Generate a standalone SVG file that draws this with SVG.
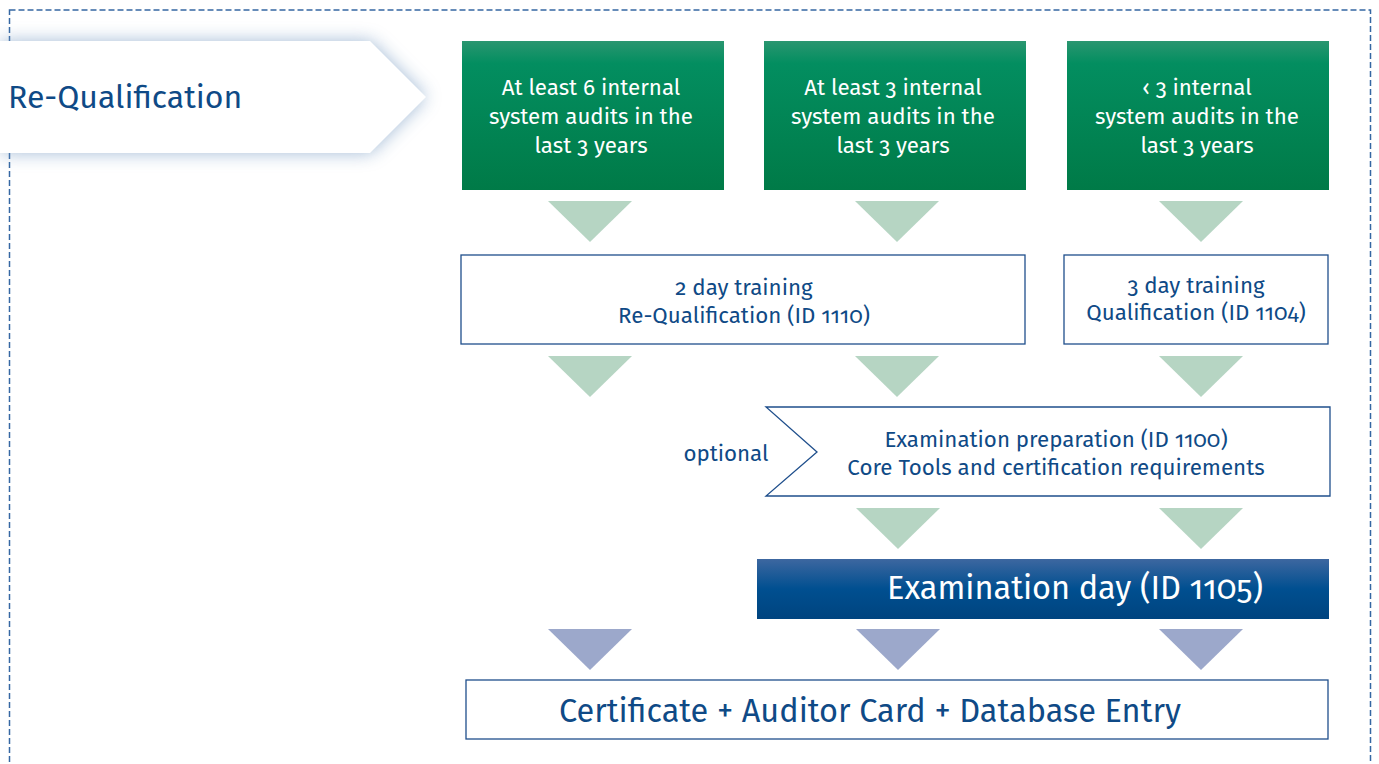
<svg xmlns="http://www.w3.org/2000/svg" width="1379" height="764" viewBox="0 0 1379 764">
<defs>
<linearGradient id="green" x1="0" y1="0" x2="0" y2="1">
<stop offset="0" stop-color="#2a9670"/>
<stop offset="0.15" stop-color="#038e60"/>
<stop offset="1" stop-color="#007a47"/>
</linearGradient>
<linearGradient id="blue" x1="0" y1="0" x2="0" y2="1">
<stop offset="0" stop-color="#3d67a0"/>
<stop offset="0.5" stop-color="#004f90"/>
<stop offset="1" stop-color="#00447f"/>
</linearGradient>
<filter id="glow" x="-20%" y="-60%" width="140%" height="220%">
<feGaussianBlur stdDeviation="9"/>
</filter>
</defs>
<style>
text{font-variant-numeric:oldstyle-nums}
.t{font-family:"Fira Sans","Noto Sans","Open Sans",sans-serif;text-anchor:middle}
.w{fill:#ffffff;font-size:22.3px}
.b{fill:#0f4a86;font-size:22.3px}
.big{font-size:32.5px}
.box{fill:#ffffff;stroke:#1f4f8c;stroke-width:1.3}
.tg{fill:#b6d5c3}
.tb{fill:#9ca8cb}
</style>
<rect x="9.5" y="10" width="1361" height="770" fill="none" stroke="#3567a3" stroke-width="1.5" stroke-dasharray="6,3"/>
<g id="banner">
<polygon points="0,41 370,41 426,97 370,153 0,153" fill="#7d9fc5" opacity="0.7" filter="url(#glow)"/>
<polygon points="0,41 370,41 426,97 370,153 0,153" fill="#ffffff"/>
<text x="8" y="108" font-family="Fira Sans,Noto Sans,Open Sans,sans-serif" font-size="32" fill="#0f4a86">Re-Qualification</text>
</g>
<g id="audit6">
<rect x="462" y="41" width="262" height="149" fill="url(#green)"/>
<text class="t w" x="591" y="95">At least 6 internal</text>
<text class="t w" x="591" y="124">system audits in the</text>
<text class="t w" x="591" y="153">last 3 years</text>
</g>
<g id="audit3">
<rect x="764" y="41" width="262" height="149" fill="url(#green)"/>
<text class="t w" x="893" y="95">At least 3 internal</text>
<text class="t w" x="893" y="124">system audits in the</text>
<text class="t w" x="893" y="153">last 3 years</text>
</g>
<g id="auditlt3">
<rect x="1067" y="41" width="262" height="149" fill="url(#green)"/>
<text class="t w" x="1197" y="95">‹ 3 internal</text>
<text class="t w" x="1197" y="124">system audits in the</text>
<text class="t w" x="1197" y="153">last 3 years</text>
</g>
<g id="training2">
<rect class="box" x="461" y="255" width="564" height="89"/>
<text class="t b" x="744" y="295">2 day training</text>
<text class="t b" x="744" y="323">Re-Qualification (ID 1110)</text>
</g>
<g id="training3">
<rect class="box" x="1064" y="255" width="264" height="89"/>
<text class="t b" x="1196" y="293">3 day training</text>
<text class="t b" x="1196" y="320">Qualification (ID 1104)</text>
</g>
<g id="examprep">
<polygon class="box" points="766,407 1330,407 1330,496 766,496 817,452"/>
<text class="t b" x="1056" y="447">Examination preparation (ID 1100)</text>
<text class="t b" x="1056" y="475">Core Tools and certification requirements</text>
<text class="t b" x="726" y="461">optional</text>
</g>
<g id="examday">
<rect x="757" y="559" width="572" height="60" fill="url(#blue)"/>
<text class="t big" x="1075" y="599" fill="#ffffff">Examination day (ID 1105)</text>
</g>
<g id="certificate">
<rect class="box" x="466" y="680" width="862" height="59"/>
<text class="t big" x="870" y="722" fill="#0f4a86">Certificate + Auditor Card + Database Entry</text>
</g>
<g id="connectors">
<polygon class="tg" points="548,201 632,201 590,242"/>
<polygon class="tg" points="855,201 939,201 897,242"/>
<polygon class="tg" points="1159,201 1243,201 1201,242"/>
<polygon class="tg" points="548,356 632,356 590,397"/>
<polygon class="tg" points="855,356 939,356 897,397"/>
<polygon class="tg" points="1159,356 1243,356 1201,397"/>
<polygon class="tg" points="856,508 940,508 898,549"/>
<polygon class="tg" points="1159,508 1243,508 1201,549"/>
<polygon class="tb" points="548,629 632,629 590,670"/>
<polygon class="tb" points="856,629 940,629 898,670"/>
<polygon class="tb" points="1159,629 1243,629 1201,670"/>
</g>
</svg>
